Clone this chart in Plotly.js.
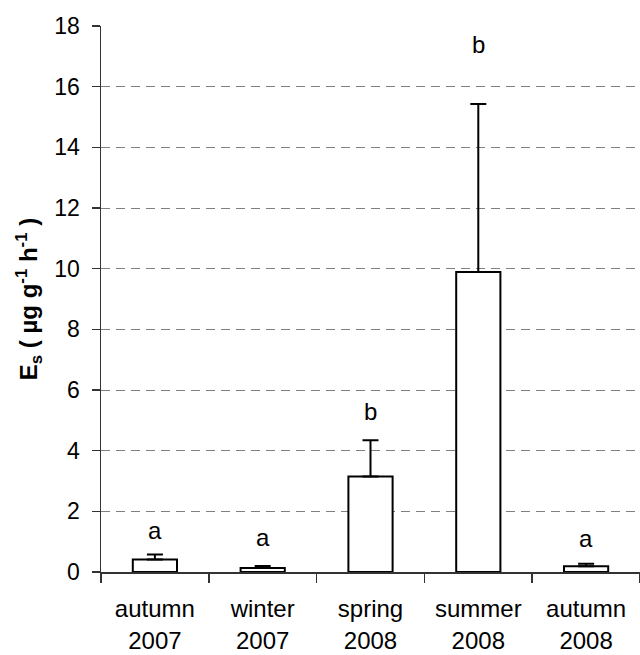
<!DOCTYPE html>
<html>
<head>
<meta charset="utf-8">
<script src="https://cdn.plot.ly/plotly-3.0.1.min.js"></script>
<style>html,body{margin:0;padding:0;background:#fff;}#chart{width:640px;height:655px;}</style>
</head>
<body>
<div id="chart"></div>
<script>
const categories = ["autumn<br>2007", "winter<br>2007", "spring<br>2008", "summer<br>2008", "autumn<br>2008"];
const meanValues = [0.41, 0.13, 3.15, 9.89, 0.19];
const errorUp = [0.17, 0.07, 1.19, 5.54, 0.08];
const groupLetters = ["a", "a", "b", "b", "a"];
const letterHeights = [1.38, 1.15, 5.28, 17.4, 1.1];
const yTicks = [0, 2, 4, 6, 8, 10, 12, 14, 16, 18];

const FONT = "Liberation Sans, Arial, sans-serif";

const trace = {
  type: "bar",
  x: categories,
  y: meanValues,
  width: 0.41,
  marker: {color: "#ffffff", line: {color: "#000000", width: 2}},
  error_y: {type: "data", array: errorUp, arrayminus: meanValues.map(() => 0), symmetric: false,
            color: "#000000", thickness: 2, width: 8},
  hoverinfo: "none"
};

const annotations = categories.map((c, i) => ({
  x: c, y: letterHeights[i], xref: "x", yref: "y",
  text: groupLetters[i], showarrow: false, yanchor: "middle", xanchor: "center",
  font: {family: FONT, size: 24, color: "#000"}
}));

const layout = {
  width: 640, height: 655,
  margin: {l: 101, r: 0, t: 26, b: 83},
  paper_bgcolor: "#fff", plot_bgcolor: "#fff",
  showlegend: false,
  font: {family: FONT, size: 22, color: "#000"},
  xaxis: {
    type: "category",
    showline: true, linecolor: "#333", linewidth: 1.5,
    ticks: "outside", tickson: "boundaries", ticklen: 9, tickcolor: "#333", tickwidth: 1.5,
    ticklabelstandoff: 15,
    tickfont: {family: FONT, size: 24, color: "#000"},
    showgrid: false, zeroline: false, fixedrange: true
  },
  yaxis: {
    range: [0, 18], tickvals: yTicks, ticktext: yTicks.map(String),
    showline: true, linecolor: "#333", linewidth: 1.5,
    ticks: "outside", ticklen: 8, tickcolor: "#333", tickwidth: 1.5,
    ticklabelstandoff: 7,
    tickfont: {family: FONT, size: 23, color: "#000"},
    showgrid: true, gridcolor: "#808080", gridwidth: 1, griddash: "9px,6px",
    zeroline: false, fixedrange: true,
    title: {text: "<b>E<sub>s</sub> ( µg g<sup>-1</sup> h<sup>-1</sup> )</b>",
            font: {family: FONT, size: 24, color: "#000"}, standoff: 10}
  },
  annotations: annotations
};

Plotly.newPlot("chart", [trace], layout, {displayModeBar: false, staticPlot: true});
</script>
</body>
</html>
